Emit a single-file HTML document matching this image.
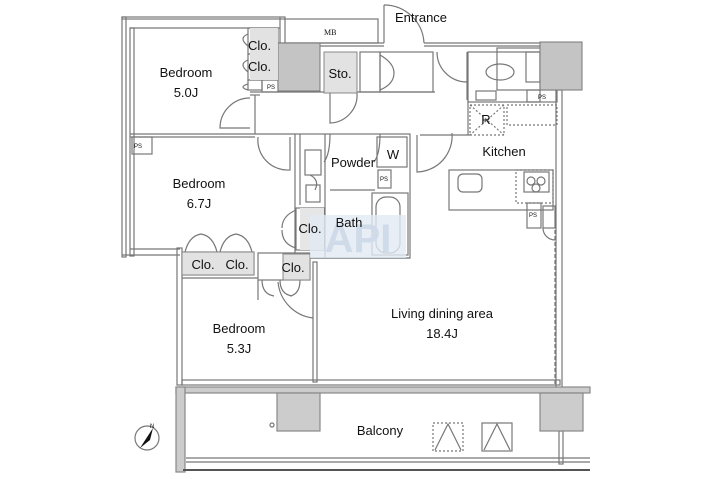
<!DOCTYPE html>
<html><head><meta charset="utf-8"><style>
html,body{margin:0;padding:0;background:#fff;}
svg{display:block;}
text{font-family:"Liberation Sans",sans-serif;fill:#111;}
</style></head><body>
<svg width="710" height="479" viewBox="0 0 710 479" xmlns="http://www.w3.org/2000/svg">
<g fill="none" stroke="#777" stroke-width="1.2">
<rect x="122" y="17" width="163" height="2"/>
<rect x="122" y="17" width="4" height="240"/>
<rect x="130" y="28" width="4" height="228"/>
<line x1="130" y1="28" x2="280" y2="28"/>
<line x1="280" y1="17" x2="280" y2="43"/>
<rect x="285" y="19" width="93" height="24"/>
<line x1="278" y1="43" x2="384" y2="43"/>
<line x1="278" y1="46" x2="384" y2="46"/>
<line x1="424" y1="43" x2="540" y2="43"/>
<line x1="424" y1="46" x2="540" y2="46"/>
<line x1="384" y1="5" x2="384" y2="43"/>
<path d="M384 5 A40 40 0 0 1 424 43"/>
<rect x="248" y="28" width="30" height="26"/>
<rect x="248" y="54" width="30" height="26"/>
<rect x="248" y="80" width="14" height="10"/>
<path d="M248 34 q-10 4 0 12 M248 60 q-10 4 0 12 M248 84 q-10 3 0 6"/>
<line x1="250" y1="92" x2="435" y2="92"/>
<line x1="250" y1="95" x2="260" y2="95"/>
<line x1="255" y1="95" x2="255" y2="134"/>
<rect x="262" y="80" width="16" height="12"/>
<path d="M250 98 A30 30 0 0 0 220 128 L250 128"/>
<path d="M330 93 L330 123 A28 28 0 0 0 357 93"/>
<rect x="360" y="52" width="20" height="40"/>
<rect x="380" y="52" width="53" height="40"/>
<path d="M380 55 q14 8 14 18 M380 90 q14 -6 14 -17"/>
<path d="M437 52 A30 30 0 0 0 467 82"/>
<line x1="467" y1="52" x2="467" y2="100"/>
<rect x="468" y="52" width="72" height="50"/>
<rect x="497" y="48" width="44" height="42"/>
<ellipse cx="500" cy="72" rx="14" ry="8"/>
<rect x="476" y="91" width="20" height="9"/>
<rect x="526" y="52" width="14" height="30"/>
<rect x="527" y="90" width="30" height="12"/>
<rect x="470" y="105" width="34" height="30" stroke-dasharray="2,2"/>
<rect x="507" y="105" width="50" height="20" stroke-dasharray="2,2"/>
<line x1="470" y1="105" x2="504" y2="135" stroke-dasharray="2,2"/>
<line x1="504" y1="105" x2="470" y2="135" stroke-dasharray="2,2"/>
<line x1="420" y1="135" x2="470" y2="135"/>
<line x1="468" y1="100" x2="468" y2="135"/>
<path d="M452 133 A36 36 0 0 1 417 172 L417 135"/>
<rect x="449" y="170" width="104" height="40"/>
<rect x="458" y="174" width="24" height="18" rx="5"/>
<rect x="516" y="170" width="37" height="33" stroke-dasharray="2,2"/>
<rect x="524" y="172" width="25" height="20"/>
<circle cx="531" cy="181" r="4"/><circle cx="541" cy="181" r="4"/><circle cx="536" cy="188" r="4"/>
<rect x="527" y="203" width="14" height="25"/>
<rect x="543" y="206" width="12" height="22"/>
<path d="M543 228 a12 12 0 0 0 12 12"/>
<rect x="556" y="90" width="6" height="298"/>
<line x1="555" y1="230" x2="555" y2="385" stroke-dasharray="4,2"/>
<rect x="559" y="431" width="4" height="33"/>
<line x1="130" y1="134" x2="295" y2="134"/>
<line x1="130" y1="137" x2="255" y2="137"/>
<rect x="132" y="137" width="20" height="17"/>
<path d="M258 137 A30 30 0 0 0 290 170 L290 137"/>
<rect x="295" y="134" width="115" height="124"/>
<line x1="300" y1="134" x2="300" y2="205"/>
<rect x="305" y="150" width="16" height="25"/>
<rect x="306" y="185" width="14" height="17"/>
<path d="M310 175 q10 5 5 15"/>
<line x1="325" y1="134" x2="325" y2="258"/>
<line x1="330" y1="190" x2="375" y2="190"/>
<rect x="377" y="137" width="30" height="30"/>
<rect x="378" y="170" width="13" height="18"/>
<rect x="372" y="193" width="36" height="62"/>
<rect x="376" y="197" width="24" height="56" rx="10"/>
<path d="M330 134 q0 20 -6 28 M380 134 q0 20 -6 28"/>
<rect x="296" y="208" width="28" height="42"/>
<path d="M296 210 q-14 6 -14 18 M296 248 q-14 -4 -14 -18"/>
<line x1="122" y1="255" x2="180" y2="255"/>
<line x1="130" y1="249" x2="180" y2="249"/>
<rect x="177" y="248" width="5" height="137"/>
<rect x="182" y="252" width="72" height="23"/>
<line x1="218" y1="252" x2="218" y2="275"/>
<path d="M185 252 q4 -16 16 -18 q12 2 16 18 M220 252 q4 -16 16 -18 q12 2 16 18"/>
<line x1="182" y1="278" x2="258" y2="278"/>
<rect x="258" y="253" width="52" height="27"/>
<path d="M258 280 l0 20 M262 280 q0 14 12 16 M280 280 q0 14 12 16 M300 280 q0 14 -10 16"/>
<path d="M278 282 A40 40 0 0 0 313 318"/>
<line x1="310" y1="258" x2="410" y2="258"/>
<rect x="313" y="262" width="4" height="120"/>
<rect x="176" y="387" width="414" height="6" fill="#ccc" stroke="#888"/>
<rect x="176" y="387" width="9" height="85" fill="#ccc" stroke="#888"/>
<rect x="277" y="393" width="43" height="38" fill="#ccc" stroke="#888"/>
<rect x="540" y="393" width="43" height="38" fill="#ccc" stroke="#888"/>
<rect x="182" y="380" width="378" height="5" />
<line x1="186" y1="458" x2="590" y2="458"/>
<line x1="186" y1="462" x2="590" y2="462"/>
<line x1="183" y1="470" x2="590" y2="470" stroke="#555" stroke-width="2"/>
<circle cx="272" cy="425" r="2"/>
<rect x="433" y="423" width="30" height="28" stroke-dasharray="2,2"/>
<rect x="482" y="423" width="30" height="28"/>
<path d="M435 450 L448 424 L461 450 M484 450 L497 424 L510 450"/>
<circle cx="147" cy="438" r="12"/>
</g>
<polygon points="153,428 140,448 150,440" fill="#111"/>
<rect x="278" y="43" width="42" height="48" fill="#c4c4c4" stroke="#777"/>
<rect x="324" y="52" width="33" height="41" fill="#e2e2e2" stroke="#888"/>
<rect x="540" y="42" width="42" height="48" fill="#c4c4c4" stroke="#777"/>
<rect x="250" y="28" width="28" height="52" fill="#e2e2e2"/>
<rect x="182" y="252" width="72" height="23" fill="#e2e2e2" stroke="#888"/>
<rect x="283" y="254" width="27" height="26" fill="#e2e2e2" stroke="#888"/>
<rect x="300" y="208" width="24" height="42" fill="#e6e6e6"/>
<rect x="310" y="215" width="96" height="43" fill="#e2eaf3" opacity="0.8"/>
<text x="358" y="252" font-size="40" text-anchor="middle" style="fill:#cfdbe8;font-weight:bold">API</text>
<g font-size="13">
<text x="395" y="22">Entrance</text>
<text x="324" y="35" font-size="8" style="font-family:'Liberation Serif',serif">MB</text>
<text x="248" y="50">Clo.</text>
<text x="248" y="71">Clo.</text>
<text x="186" y="77" text-anchor="middle">Bedroom</text>
<text x="186" y="97" text-anchor="middle">5.0J</text>
<text x="340" y="78" text-anchor="middle">Sto.</text>
<text x="353" y="167" text-anchor="middle">Powder</text>
<text x="393" y="159" text-anchor="middle">W</text>
<text x="486" y="124" text-anchor="middle">R</text>
<text x="504" y="156" text-anchor="middle">Kitchen</text>
<text x="199" y="188" text-anchor="middle">Bedroom</text>
<text x="199" y="208" text-anchor="middle">6.7J</text>
<text x="349" y="227" text-anchor="middle">Bath</text>
<text x="310" y="233" text-anchor="middle">Clo.</text>
<text x="203" y="269" text-anchor="middle">Clo.</text>
<text x="237" y="269" text-anchor="middle">Clo.</text>
<text x="293" y="272" text-anchor="middle">Clo.</text>
<text x="239" y="333" text-anchor="middle">Bedroom</text>
<text x="239" y="353" text-anchor="middle">5.3J</text>
<text x="442" y="318" text-anchor="middle">Living dining area</text>
<text x="442" y="338" text-anchor="middle">18.4J</text>
<text x="380" y="435" text-anchor="middle">Balcony</text>
</g>
<g font-size="6">
<text x="267" y="89">PS</text>
<text x="134" y="148">PS</text>
<text x="380" y="181">PS</text>
<text x="538" y="99">PS</text>
<text x="529" y="217">PS</text>
<text x="150" y="428">N</text>
</g>
</svg>
</body></html>
